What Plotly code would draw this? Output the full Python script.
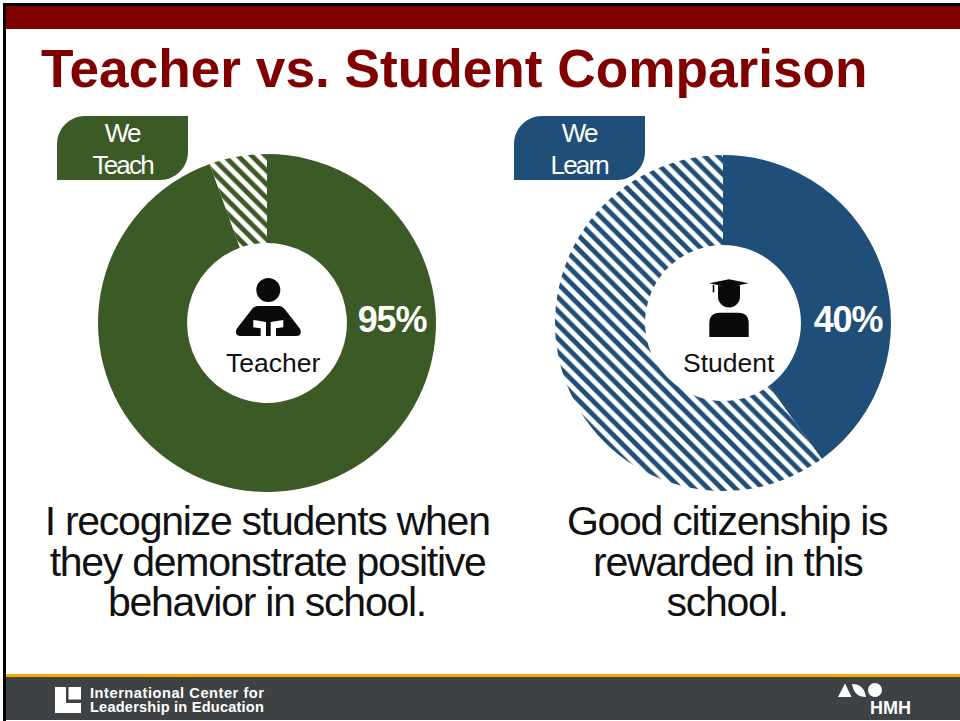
import json
import plotly.graph_objects as go

W, H = 960, 721
slices = ["Agree", "Other"]
teacher_values = [94.5, 5.5]
student_values = [40, 60]
teacher_label = "95%"
student_label = "40%"
title = "Teacher vs. Student Comparison"
teacher_lines = ["I recognize students when", "they demonstrate positive", "behavior in school."]
student_lines = ["Good citizenship is", "rewarded in this", "school."]
GREEN, BLUE, MAROON, DARK = "#3b5a25", "#1f4e79", "#800000", "#3f4244"
FONT = "Liberation Sans"

def donut(values, color, cx, cy, r, hole):
    return go.Pie(
        labels=slices, values=values, sort=False, direction="clockwise", rotation=0,
        hole=hole, textinfo="none", hoverinfo="label+percent", showlegend=False,
        domain=dict(x=[(cx - r) / W, (cx + r) / W], y=[1 - (cy + r) / H, 1 - (cy - r) / H]),
        marker=dict(colors=[color, "white"], line=dict(width=0),
                    pattern=dict(shape=["", "\\"], fgcolor=color, bgcolor="white", size=9.7, solidity=0.5)),
    )

fig = go.Figure([donut(teacher_values, GREEN, 267, 323, 169, 0.473),
                 donut(student_values, BLUE, 723, 323, 168, 0.464)])

shapes = []
def rect(x0, y0, x1, y1, c, layer="below"):
    shapes.append(dict(type="rect", x0=x0, y0=y0, x1=x1, y1=y1, fillcolor=c, line_width=0, layer=layer))
def path(d, c, layer="above"):
    shapes.append(dict(type="path", path=d, fillcolor=c, line_width=0, layer=layer))
def circle(cx, cy, r, c):
    shapes.append(dict(type="circle", x0=cx - r, x1=cx + r, y0=cy - r, y1=cy + r, fillcolor=c, line_width=0))
def zp(points, ox, oy):
    out = []
    for p in points:
        vals = [str(round(v / 3 + (ox if i % 2 == 0 else oy), 1)) for i, v in enumerate(p[1:])]
        out.append(p[0] + " " + " ".join(vals))
    return " ".join(out) + " Z"

# frame, header, footer
rect(3, 3, 960, 6, "#000000")
rect(3, 3, 6, 721, "#000000")
rect(6, 6, 960, 29, MAROON)
rect(6, 674, 960, 677, "#f5a800")
rect(6, 677, 960, 720, DARK)

# badges
def badge(x0, y0, x1, y1, r, c):
    path(f"M {x0+r} {y0} C {x0+r*0.45} {y0} {x0} {y0+r*0.45} {x0} {y0+r} L {x0} {y1} L {x1-r} {y1} "
         f"C {x1-r*0.45} {y1} {x1} {y1-r*0.45} {x1} {y1-r} L {x1} {y0} Z", c)
badge(57, 116, 188, 180, 28, GREEN)
badge(514, 116, 645, 180, 28, BLUE)

# teacher icon
ICON = "#0a0a0a"
circle(268.3, 290, 12, ICON)
path(zp([("M",262,198),("L",328,198),("Q",340,200,348,212),("L",390,266),("Q",398,288,378,288),("L",212,288),("Q",192,288,200,266),("L",242,212),("Q",250,200,262,198)],170,240), ICON)
path(zp([("M",250,240),("L",288,246),("L",288,289),("L",272,289),("L",272,265),("L",250,262)],170,240), "white")
path(zp([("M",340,240),("L",302,246),("L",302,289),("L",318,289),("L",318,265),("L",340,262)],170,240), "white")

# student icon
circle(729, 296.5, 11, ICON)
path(zp([("M",238,130),("L",297,118),("L",356,130),("L",297,142)],630,240), ICON)
path(zp([("M",264,136),("L",330,136),("L",330,165),("L",264,165)],630,240), ICON)
path(zp([("M",248,134),("L",253,134),("L",253,157),("L",248,157)],630,240), ICON)
path(zp([("M",238,291),("L",238,250),("Q",238,218,270,218),("L",325,218),("Q",356,218,356,250),("L",356,291)],630,240), ICON)

# footer logos
path("M 55 687 L 66 687 L 66 703 L 81 703 L 81 713 L 55 713 Z", "white")
rect(68.5, 687, 81, 699.5, "white", "above")
path("M 838 697 L 845 683.5 L 851.5 697 Z", "white")
path("M 852 684 Q 864 684 866 697 Q 854 697 852 684 Z", "white")
circle(875, 690, 7, "white")

ann = []
spacing = {}
def text(x, y, s, size, color, bold=False, anchor="center", ls=0):
    ann.append(dict(x=x, y=y, text=f"<b>{s}</b>" if bold else s, showarrow=False, xanchor=anchor, yanchor="middle",
                    font=dict(family=FONT, size=size, color=color), xref="x", yref="y", align=anchor))
    if ls:
        spacing[s] = ls
text(39, 68, title, 53.2, MAROON, True, "left")
text(122, 133, "We", 26, "white", ls=-1.8); text(122, 165, "Teach", 26, "white", ls=-1.8)
text(579.5, 133, "We", 26, "white", ls=-1.8); text(579.5, 165, "Learn", 26, "white", ls=-1.8)
text(392, 319, teacher_label, 36, "white", True, ls=-1.2)
text(848, 319, student_label, 36, "white", True, ls=-1.2)
text(273, 363, "Teacher", 26.5, "#111111")
text(729, 363, "Student", 26.5, "#111111")
for i, s in enumerate(teacher_lines):
    text(267, 521 + i * 40.5, s, 41, "#111111", ls=-1.25)
for i, s in enumerate(student_lines):
    text(727, 521 + i * 40.5, s, 41, "#111111", ls=-1.25)
text(88, 693, "International Center for", 14.6, "white", True, "left", ls=0.55)
text(88, 707, "Leadership in Education", 14.6, "white", True, "left", ls=0.2)
text(890, 708, "HMH", 18, "white", True)

fig.update_layout(
    width=W, height=H, margin=dict(l=0, r=0, t=0, b=0), paper_bgcolor="white", plot_bgcolor="rgba(0,0,0,0)",
    xaxis=dict(range=[0, W], visible=False, fixedrange=True),
    yaxis=dict(range=[H, 0], visible=False, fixedrange=True),
    shapes=shapes, annotations=ann, font=dict(family=FONT),
)
script = ("document.body.style.margin='0';const m=" + json.dumps(spacing) + ";"
          "document.querySelectorAll('.annotation-text').forEach(t=>{const v=m[t.textContent];"
          "if(v)t.style.letterSpacing=v+'px';});")
fig.write_html("out.html", config=dict(displayModeBar=False), post_script=script)
